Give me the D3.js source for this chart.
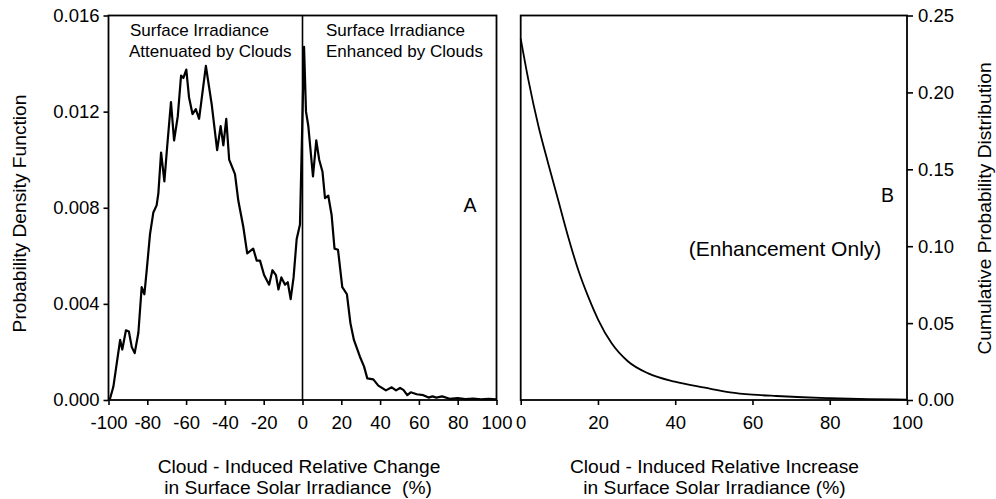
<!DOCTYPE html>
<html><head><meta charset="utf-8">
<script src="https://cdn.jsdelivr.net/npm/d3@7"></script>
<style>
body{margin:0;background:#fff;}
text{font-family:Arial,"Liberation Sans",Helvetica,sans-serif;fill:#000;white-space:pre;}
</style>
</head><body>
<svg id="c" width="996" height="499"></svg>
<script>
// Panel A: probability density of cloud-induced relative change (%)
const pdfX = [-99.3,-97.5,-94,-92.9,-91,-89.5,-88,-86.5,-84.6,-82.9,-81.5,-80.3,-78.6,-76.9,-75.2,-74.3,-72.9,-71.2,-69.7,-67.8,-66.2,-64.3,-62.6,-61.4,-59.9,-58.5,-56.7,-55,-53.3,-49.8,-46.8,-44,-42.2,-40.8,-39.3,-37.8,-34.8,-33.1,-30.5,-28.5,-25.4,-23.6,-21.9,-19.8,-17.2,-15.5,-13.7,-12.4,-10.9,-9,-7.6,-6.1,-4.6,-3,-1.3,0.8,1.8,3,5.4,7.1,8.6,10.3,11.6,13.3,15,16.5,18.3,20.5,22.9,24.7,26.5,29.6,31.7,33.4,36.5,39.1,43,46,48.2,50.3,52,54,55.8,58.9,62.3,65,67,69,72,75.8,80,84,88,92,96,100];
const pdfY = [0.00003,0.00055,0.0025,0.0021,0.0029,0.00285,0.0022,0.00195,0.0028,0.0047,0.0044,0.0054,0.0069,0.0078,0.0081,0.0086,0.0103,0.0091,0.0106,0.0124,0.0108,0.0118,0.0135,0.0134,0.01375,0.0126,0.0119,0.0121,0.0117,0.0139,0.0123,0.0104,0.0114,0.0106,0.0117,0.0100,0.0094,0.0083,0.0072,0.0061,0.0063,0.0058,0.0058,0.0052,0.0048,0.0054,0.0052,0.0046,0.0051,0.0048,0.0049,0.0042,0.0051,0.0067,0.0073,0.0147,0.0120,0.0114,0.0093,0.0108,0.0100,0.0095,0.0084,0.0085,0.0077,0.0063,0.00625,0.0047,0.0044,0.0032,0.0025,0.0018,0.0014,0.0009,0.00086,0.0006,0.0004,0.00053,0.0004,0.0005,0.00042,0.0002,0.00032,0.00024,0.0002,0.0001,0.00015,0.0001,0.00015,0.00005,0.00008,0.00004,0.00006,0.00003,0.00005,0.00003];

// Panel B: cumulative probability (enhancement only)
const cdfX = [0,2,4.6,7.1,9.7,12.3,14.9,17.5,20.1,23.5,27.8,33,39.9,47.7,54.2,60,66.2,73,80,90,100];
const cdfY = [0.235,0.208,0.178,0.154,0.130,0.106,0.0845,0.067,0.052,0.037,0.025,0.0173,0.0119,0.008,0.005,0.0035,0.0026,0.0018,0.0012,0.0006,0.0003];

const leftXTicks = [-100,-80,-60,-40,-20,0,20,40,60,80,100];
const leftYTicks = [0,0.004,0.008,0.012,0.016];
const rightXTicks = [0,20,40,60,80,100];
const rightYTicks = [0,0.05,0.10,0.15,0.20,0.25];

const svg = d3.select("#c");
const TICKFS = "18.5px", TITLEFS = "19.2px";

// scales
const xA = d3.scaleLinear().domain([-100,100]).range([108.5,496.5]);
const yA = d3.scaleLinear().domain([0,0.016]).range([400,15.5]);
const xB = d3.scaleLinear().domain([0,100]).range([520.7,907]);
const yB = d3.scaleLinear().domain([0,0.25]).range([400,15.5]);

function styleAxis(g){
  g.select(".domain").remove();
  g.selectAll(".tick line").attr("stroke","#000").attr("stroke-width",1.6);
  g.selectAll(".tick text").style("font-size",TICKFS).attr("fill","#000");
}

// Panel A axes
svg.append("g").attr("transform","translate(0,400)")
  .call(d3.axisBottom(xA).tickValues(leftXTicks).tickFormat(d=>String(d)).tickSize(5).tickPadding(11).tickSizeOuter(0))
  .call(styleAxis);
svg.append("g").attr("transform","translate(108.5,0)")
  .call(d3.axisLeft(yA).tickValues(leftYTicks).tickFormat(d3.format(".3f")).tickSize(5).tickPadding(4).tickSizeOuter(0))
  .call(styleAxis);

// Panel B axes
svg.append("g").attr("transform","translate(0,400)")
  .call(d3.axisBottom(xB).tickValues(rightXTicks).tickFormat(d=>String(d)).tickSize(5).tickPadding(11).tickSizeOuter(0))
  .call(styleAxis);
svg.append("g").attr("transform","translate(907,0)")
  .call(d3.axisRight(yB).tickValues(rightYTicks).tickFormat(d3.format(".2f")).tickSize(6).tickPadding(5).tickSizeOuter(0))
  .call(styleAxis);

// Frames
svg.append("rect").attr("x",xA(-100)).attr("y",yA(0.016)).attr("width",xA(100)-xA(-100)).attr("height",yA(0)-yA(0.016))
  .attr("fill","none").attr("stroke","#000").attr("stroke-width",1.8);
svg.append("rect").attr("x",xB(0)).attr("y",yB(0.25)).attr("width",xB(100)-xB(0)).attr("height",yB(0)-yB(0.25))
  .attr("fill","none").attr("stroke","#000").attr("stroke-width",1.8);
// divider at zero
svg.append("line").attr("x1",xA(0)).attr("x2",xA(0)).attr("y1",yA(0.016)).attr("y2",yA(0))
  .attr("stroke","#000").attr("stroke-width",1.6);

// Curves
const pdfData = pdfX.map((x,i)=>[x,pdfY[i]]);
svg.append("path").datum(pdfData)
  .attr("d",d3.line().x(d=>xA(d[0])).y(d=>yA(d[1])))
  .attr("fill","none").attr("stroke","#000").attr("stroke-width",2.2).attr("stroke-linejoin","round");
const cdfData = cdfX.map((x,i)=>[x,cdfY[i]]);
svg.append("path").datum(cdfData)
  .attr("d",d3.line().curve(d3.curveMonotoneX).x(d=>xB(d[0])).y(d=>yB(d[1])))
  .attr("fill","none").attr("stroke","#000").attr("stroke-width",1.8);

// Annotations
function txt(x,y,s,fs,anchor,extra){
  const t = svg.append("text").attr("x",x).attr("y",y).style("font-size",fs).attr("text-anchor",anchor||"start").text(s);
  if(extra) t.attr("transform",extra);
  return t;
}
txt(130,36,"Surface Irradiance","17px");
txt(129,56.5,"Attenuated by Clouds","17px");
txt(326,36,"Surface Irradiance","17px");
txt(326,56.5,"Enhanced by Clouds","17px");
txt(470,212,"A","19.5px","middle");
txt(887.5,202,"B","19.5px","middle");
txt(785,256,"(Enhancement Only)","21px","middle");

// Axis titles
txt(299,472.5,"Cloud - Induced Relative Change",TITLEFS,"middle");
txt(298,493.5,"in Surface Solar Irradiance  (%)",TITLEFS,"middle");
txt(714.5,472.5,"Cloud - Induced Relative Increase",TITLEFS,"middle");
txt(714.5,493.5,"in Surface Solar Irradiance (%)",TITLEFS,"middle");
txt(0,0,"Probability Density Function",TITLEFS,"middle","translate(26,213.5) rotate(-90)");
txt(0,0,"Cumulative Probability Distribution",TITLEFS,"middle","translate(991,208.5) rotate(-90)");
</script>
</body></html>
